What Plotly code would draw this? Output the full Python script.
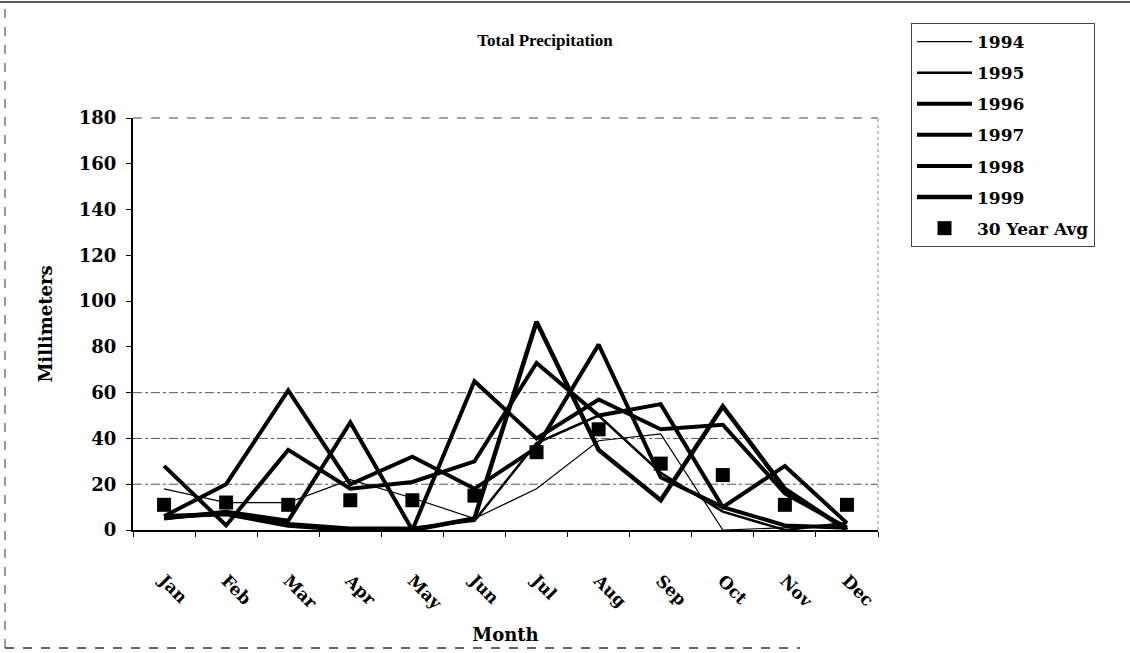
import plotly.graph_objects as go

# Monthly precipitation totals (mm)
months = ["Jan", "Feb", "Mar", "Apr", "May", "Jun",
          "Jul", "Aug", "Sep", "Oct", "Nov", "Dec"]

p1994 = [18, 12, 12, 22, 14, 5, 18, 39, 42, 0, 1, 3]
p1995 = [5, 7, 3, 1, 1, 4, 38, 50, 25, 8, 0, 3]
p1996 = [6, 20, 61, 20, 32, 18, 36, 81, 23, 10, 2, 1]
p1997 = [28, 2, 35, 18, 21, 30, 73, 50, 55, 10, 28, 3]
p1998 = [5, 8, 4, 47, 0, 65, 40, 57, 44, 46, 16, 1]
p1999 = [6, 7, 2, 0, 0, 5, 91, 35, 13, 54, 18, 0]
avg_30yr = [11, 12, 11, 13, 13, 15, 34, 44, 29, 24, 11, 11]

series = [("1994", p1994), ("1995", p1995), ("1996", p1996),
          ("1997", p1997), ("1998", p1998), ("1999", p1999)]
line_widths = {"1994": 1.2, "1995": 2.5, "1996": 4, "1997": 4, "1998": 4, "1999": 4.5}

serif = "Liberation Serif, Times New Roman, serif"
wide_serif = "DejaVu Serif, serif"

fig = go.Figure()
for name, vals in series:
    fig.add_trace(go.Scatter(
        x=months, y=vals, name=name, mode="lines",
        line=dict(color="black", width=line_widths[name]),
        legendgroup=name,
    ))
fig.add_trace(go.Scatter(
    x=months, y=avg_30yr, name="30 Year Avg", mode="markers",
    marker=dict(symbol="square", size=14, color="black"),
    legendgroup="avg",
))

# horizontal reference lines
grid_levels = [20, 40, 60]
for g in grid_levels:
    fig.add_shape(type="line", xref="paper", yref="y", x0=0, x1=1, y0=g, y1=g,
                  line=dict(color="#555555", width=1, dash="dashdot"), layer="below")

# plot-area frame (top and right edges)
fig.add_shape(type="line", xref="paper", yref="paper", x0=0, x1=1, y0=1, y1=1,
              line=dict(color="#444444", width=1, dash="dash"), layer="below")
fig.add_shape(type="line", xref="paper", yref="paper", x0=1, x1=1, y0=0, y1=1,
              line=dict(color="#888888", width=1, dash="dot"), layer="below")

# outer chart frame
W, H = 1130, 653
L, R, T, B = 133, 878, 118, 530
pw, ph = R - L, B - T
fx0, fx1 = (5 - L) / pw, (1130 - L) / pw
fy_top, fy_bot = (B - 2) / ph, (B - 648) / ph
fig.add_shape(type="line", xref="paper", yref="paper", x0=fx0 - 0.01, x1=fx1,
              y0=fy_top, y1=fy_top, line=dict(color="#222222", width=1.5))
fig.add_shape(type="line", xref="paper", yref="paper", x0=fx0, x1=fx0,
              y0=fy_bot, y1=fy_top, line=dict(color="#333333", width=1, dash="dash"))
fig.add_shape(type="line", xref="paper", yref="paper", x0=fx0, x1=(800 - L) / pw,
              y0=fy_bot, y1=fy_bot, line=dict(color="#333333", width=1.5, dash="dash"))

fig.update_layout(
    width=W, height=H,
    margin=dict(l=L, r=W - R, t=T, b=H - B),
    paper_bgcolor="white", plot_bgcolor="white",
    font=dict(family=wide_serif, color="black", size=17, weight="bold"),
    title=dict(text="Total Precipitation", x=545 / W, xanchor="center",
               y=1 - 40 / H, yanchor="middle",
               font=dict(family=serif, size=17, weight="bold", color="black")),
    xaxis=dict(
        type="category", range=[-0.5, 11.5],
        tickson="boundaries", ticks="outside", ticklen=5, tickcolor="black",
        showline=True, linecolor="black", linewidth=2, showgrid=False,
        tickangle=45, ticklabelstandoff=32,
        tickfont=dict(family=wide_serif, size=17, weight="bold"),
        title=dict(text="Month", standoff=16,
                   font=dict(family=wide_serif, size=18, weight="bold")),
    ),
    yaxis=dict(
        range=[0, 180], dtick=20, ticks="outside", ticklen=5, tickcolor="black",
        showline=True, linecolor="black", linewidth=2, showgrid=False,
        zeroline=False, ticklabelstandoff=6,
        tickfont=dict(family=wide_serif, size=18, weight="bold"),
        title=dict(text="Millimeters", standoff=22,
                   font=dict(family=wide_serif, size=18, weight="bold")),
    ),
    legend=dict(
        x=(911 - L) / pw, y=(B - 23) / ph, xanchor="left", yanchor="top",
        bordercolor="#444444", borderwidth=1, bgcolor="white",
        font=dict(family=wide_serif, size=17, weight="bold"),
        tracegroupgap=6, itemwidth=55,
    ),
    showlegend=True,
)

fig.write_html("out.html")
